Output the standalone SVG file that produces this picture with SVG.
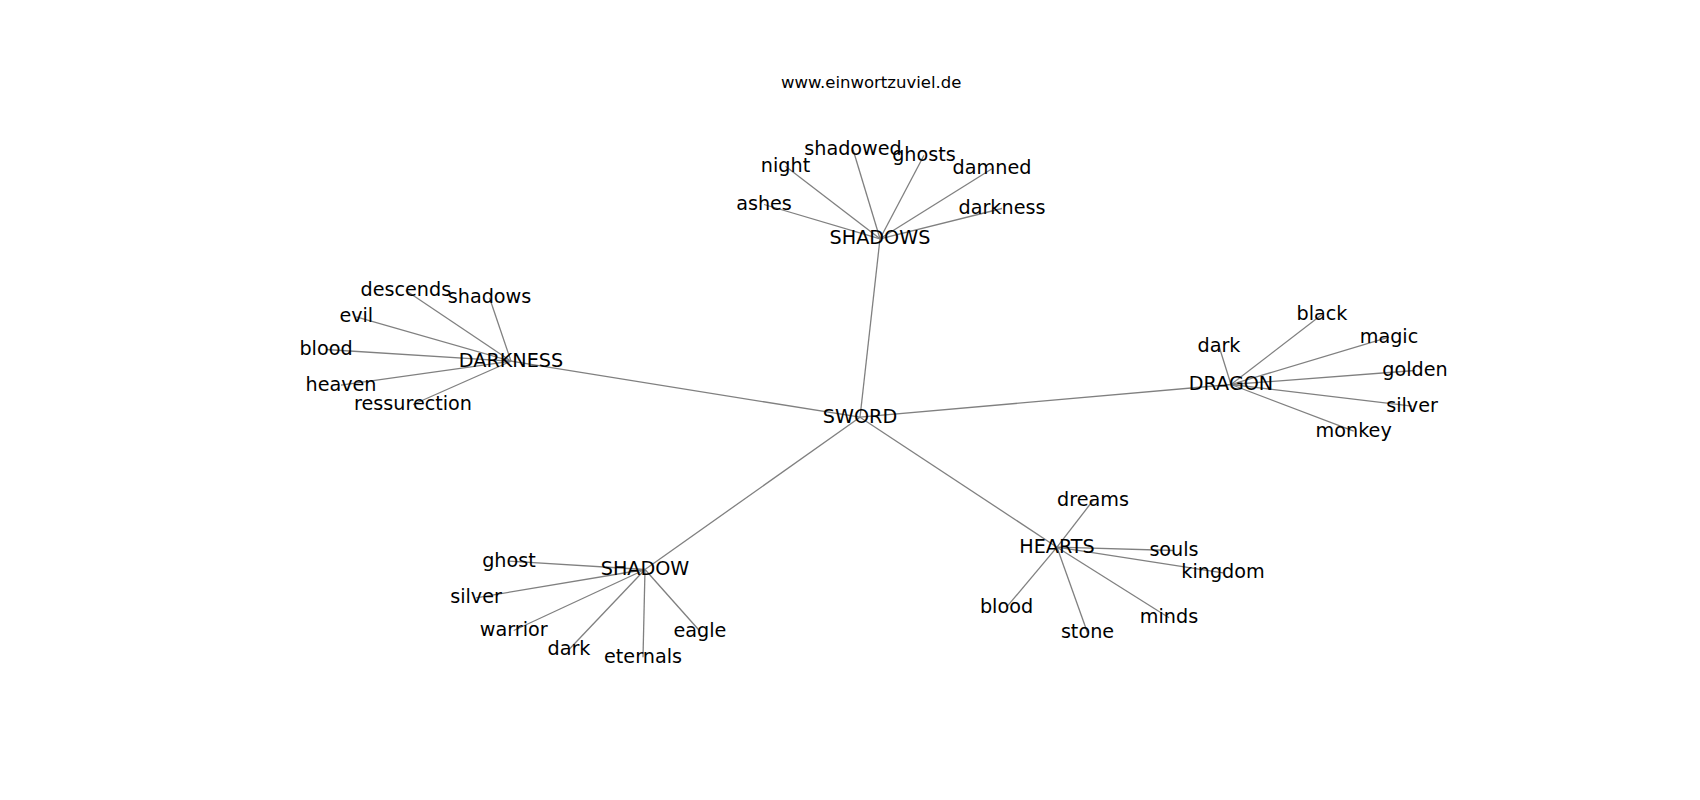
<svg xmlns="http://www.w3.org/2000/svg" width="1700" height="800" viewBox="0 0 1700 800">
<style>
.e{stroke:#808080;stroke-width:1.3;fill:none}
.t{font-family:"DejaVu Sans","Liberation Sans",sans-serif;font-size:19.2px;fill:#000;text-anchor:middle}
.title{font-family:"DejaVu Sans","Liberation Sans",sans-serif;font-size:16.5px;fill:#000;text-anchor:middle}
</style>
<rect width="1700" height="800" fill="#fff"/>
<text class="title" x="871.25" y="88">www.einwortzuviel.de</text>
<g id="edges">
<line class="e" x1="860" y1="417.2" x2="880" y2="238.8"/>
<line class="e" x1="860" y1="417.2" x2="511" y2="361.2"/>
<line class="e" x1="860" y1="417.2" x2="1231" y2="384.5"/>
<line class="e" x1="860" y1="417.2" x2="645" y2="569.5"/>
<line class="e" x1="860" y1="417.2" x2="1057" y2="547.2"/>
<line class="e" x1="880" y1="238.8" x2="853" y2="149.5"/>
<line class="e" x1="880" y1="238.8" x2="924" y2="155.2"/>
<line class="e" x1="880" y1="238.8" x2="785.5" y2="166.2"/>
<line class="e" x1="880" y1="238.8" x2="992" y2="168.8"/>
<line class="e" x1="880" y1="238.8" x2="764" y2="204.5"/>
<line class="e" x1="880" y1="238.8" x2="1002" y2="208.5"/>
<line class="e" x1="511" y1="361.2" x2="405.8" y2="290.5"/>
<line class="e" x1="511" y1="361.2" x2="489.5" y2="297.8"/>
<line class="e" x1="511" y1="361.2" x2="356.3" y2="316.8"/>
<line class="e" x1="511" y1="361.2" x2="326" y2="349.5"/>
<line class="e" x1="511" y1="361.2" x2="341" y2="385.2"/>
<line class="e" x1="511" y1="361.2" x2="413" y2="404.5"/>
<line class="e" x1="1231" y1="384.5" x2="1219" y2="346.2"/>
<line class="e" x1="1231" y1="384.5" x2="1322" y2="314.5"/>
<line class="e" x1="1231" y1="384.5" x2="1389" y2="337.2"/>
<line class="e" x1="1231" y1="384.5" x2="1415" y2="370.5"/>
<line class="e" x1="1231" y1="384.5" x2="1412" y2="406.2"/>
<line class="e" x1="1231" y1="384.5" x2="1353.7" y2="431.2"/>
<line class="e" x1="645" y1="569.5" x2="509" y2="561.2"/>
<line class="e" x1="645" y1="569.5" x2="476" y2="597.8"/>
<line class="e" x1="645" y1="569.5" x2="513.7" y2="630.5"/>
<line class="e" x1="645" y1="569.5" x2="569" y2="649.5"/>
<line class="e" x1="645" y1="569.5" x2="643" y2="657.2"/>
<line class="e" x1="645" y1="569.5" x2="700" y2="631.2"/>
<line class="e" x1="1057" y1="547.2" x2="1093" y2="500.5"/>
<line class="e" x1="1057" y1="547.2" x2="1174" y2="550.5"/>
<line class="e" x1="1057" y1="547.2" x2="1223" y2="572.8"/>
<line class="e" x1="1057" y1="547.2" x2="1006.5" y2="607.2"/>
<line class="e" x1="1057" y1="547.2" x2="1087.5" y2="632.8"/>
<line class="e" x1="1057" y1="547.2" x2="1169" y2="617.8"/>
</g>
<g id="n-sword"><text class="t" x="860" y="422.7">SWORD</text></g>
<g id="n-shadows"><text class="t" x="880" y="244.3">SHADOWS</text></g>
<g id="n-darkness"><text class="t" x="511" y="366.7">DARKNESS</text></g>
<g id="n-dragon"><text class="t" x="1231" y="390">DRAGON</text></g>
<g id="n-shadow"><text class="t" x="645" y="575">SHADOW</text></g>
<g id="n-hearts"><text class="t" x="1057" y="552.7">HEARTS</text></g>
<g id="n-shadowed"><text class="t" x="853" y="155">shadowed</text></g>
<g id="n-ghosts"><text class="t" x="924" y="160.7">ghosts</text></g>
<g id="n-night"><text class="t" x="785.5" y="171.7">night</text></g>
<g id="n-damned"><text class="t" x="992" y="174.3">damned</text></g>
<g id="n-ashes"><text class="t" x="764" y="210">ashes</text></g>
<g id="n-darkness-leaf"><text class="t" x="1002" y="214">darkness</text></g>
<g id="n-descends"><text class="t" x="405.8" y="296">descends</text></g>
<g id="n-shadows-leaf"><text class="t" x="489.5" y="303.3">shadows</text></g>
<g id="n-evil"><text class="t" x="356.3" y="322.3">evil</text></g>
<g id="n-blood-1"><text class="t" x="326" y="355">blood</text></g>
<g id="n-heaven"><text class="t" x="341" y="390.7">heaven</text></g>
<g id="n-ressurection"><text class="t" x="413" y="410">ressurection</text></g>
<g id="n-dark-1"><text class="t" x="1219" y="351.7">dark</text></g>
<g id="n-black"><text class="t" x="1322" y="320">black</text></g>
<g id="n-magic"><text class="t" x="1389" y="342.7">magic</text></g>
<g id="n-golden"><text class="t" x="1415" y="376">golden</text></g>
<g id="n-silver-1"><text class="t" x="1412" y="411.7">silver</text></g>
<g id="n-monkey"><text class="t" x="1353.7" y="436.7">monkey</text></g>
<g id="n-ghost"><text class="t" x="509" y="566.7">ghost</text></g>
<g id="n-silver-2"><text class="t" x="476" y="603.3">silver</text></g>
<g id="n-warrior"><text class="t" x="513.7" y="636">warrior</text></g>
<g id="n-dark-2"><text class="t" x="569" y="655">dark</text></g>
<g id="n-eternals"><text class="t" x="643" y="662.7">eternals</text></g>
<g id="n-eagle"><text class="t" x="700" y="636.7">eagle</text></g>
<g id="n-dreams"><text class="t" x="1093" y="506">dreams</text></g>
<g id="n-souls"><text class="t" x="1174" y="556">souls</text></g>
<g id="n-kingdom"><text class="t" x="1223" y="578.3">kingdom</text></g>
<g id="n-blood-2"><text class="t" x="1006.5" y="612.7">blood</text></g>
<g id="n-stone"><text class="t" x="1087.5" y="638.3">stone</text></g>
<g id="n-minds"><text class="t" x="1169" y="623.3">minds</text></g>
</svg>
